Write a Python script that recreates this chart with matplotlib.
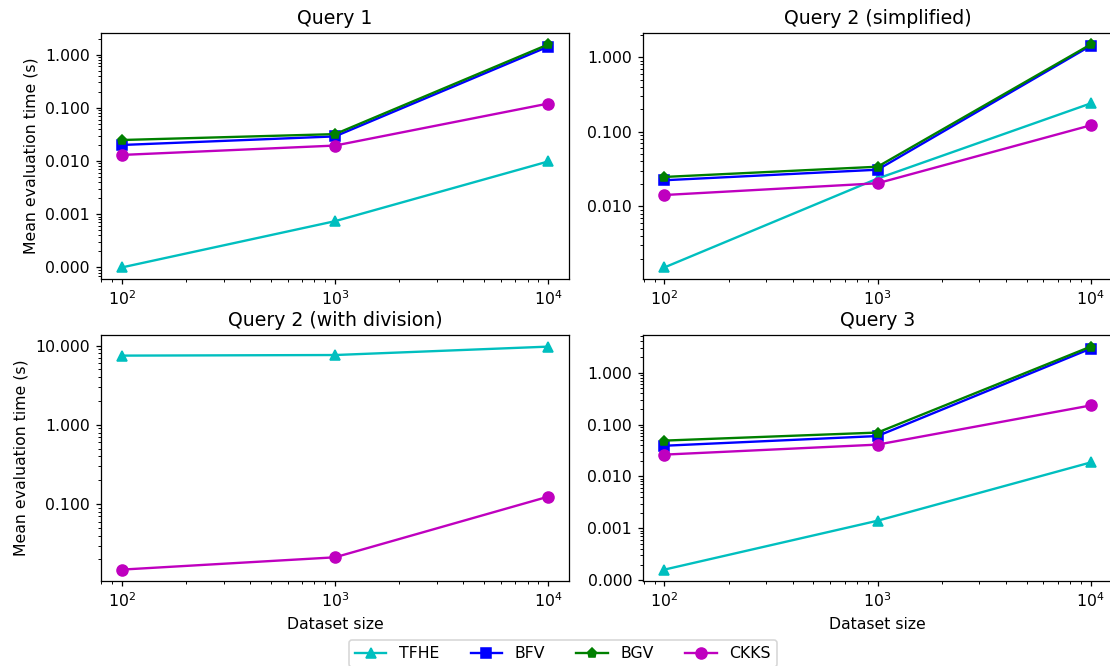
import numpy as np
import matplotlib
matplotlib.use('Agg')
import matplotlib.pyplot as plt
from matplotlib.ticker import FormatStrFormatter

# dataset sizes
sizes = [100, 1000, 10000]

# Query 1
q1_tfhe = [0.0001, 0.00074, 0.0098]
q1_bfv = [0.020, 0.029, 1.41]
q1_bgv = [0.0248, 0.032, 1.55]
q1_ckks = [0.013, 0.0195, 0.12]

# Query 2 (simplified)
q2s_tfhe = [0.00152, 0.0236, 0.24]
q2s_bfv = [0.0224, 0.031, 1.42]
q2s_bgv = [0.0248, 0.034, 1.48]
q2s_ckks = [0.0142, 0.0204, 0.122]

# Query 2 (with division) - only TFHE and CKKS
q2d_tfhe = [7.47, 7.6, 9.7]
q2d_ckks = [0.0149, 0.0213, 0.124]

# Query 3
q3_tfhe = [0.00016, 0.0014, 0.0186]
q3_bfv = [0.039, 0.060, 2.9]
q3_bgv = [0.049, 0.070, 3.17]
q3_ckks = [0.0263, 0.041, 0.233]

titles = ['Query 1', 'Query 2 (simplified)', 'Query 2 (with division)', 'Query 3']
scheme_names = ['TFHE', 'BFV', 'BGV', 'CKKS']

styles = {
    'TFHE': dict(color='c', marker='^', markersize=7),
    'BFV': dict(color='b', marker='s', markersize=6.5),
    'BGV': dict(color='g', marker='p', markersize=6),
    'CKKS': dict(color='m', marker='o', markersize=7),
}

panels = [
    {'TFHE': q1_tfhe, 'BFV': q1_bfv, 'BGV': q1_bgv, 'CKKS': q1_ckks},
    {'TFHE': q2s_tfhe, 'BFV': q2s_bfv, 'BGV': q2s_bgv, 'CKKS': q2s_ckks},
    {'TFHE': q2d_tfhe, 'CKKS': q2d_ckks},
    {'TFHE': q3_tfhe, 'BFV': q3_bfv, 'BGV': q3_bgv, 'CKKS': q3_ckks},
]

# the original looks like a default-style figure scaled up a bit -> higher dpi
DPI = 113
fig, axes = plt.subplots(2, 2, figsize=(1110 / DPI, 666 / DPI), dpi=DPI)
fig.subplots_adjust(left=0.0906, right=1.0018, bottom=0.128, top=0.950,
                    wspace=0.157, hspace=0.232)

handles = {}
for i, ax in enumerate(axes.flat):
    data = panels[i]
    for name in scheme_names:
        if name not in data:
            continue
        line, = ax.plot(sizes, data[name], label=name, **styles[name])
        handles[name] = line
    ax.set_xscale('log')
    ax.set_yscale('log')
    ax.yaxis.set_major_formatter(FormatStrFormatter('%.3f'))
    ax.set_title(titles[i])
    if i % 2 == 0:
        ax.set_ylabel('Mean evaluation time (s)')
    if i >= 2:
        ax.set_xlabel('Dataset size')

fig.legend([handles[n] for n in scheme_names], scheme_names,
           loc='lower center', ncol=4, bbox_to_anchor=(0.507, -0.014))

fig.savefig('out.png', dpi=DPI)
